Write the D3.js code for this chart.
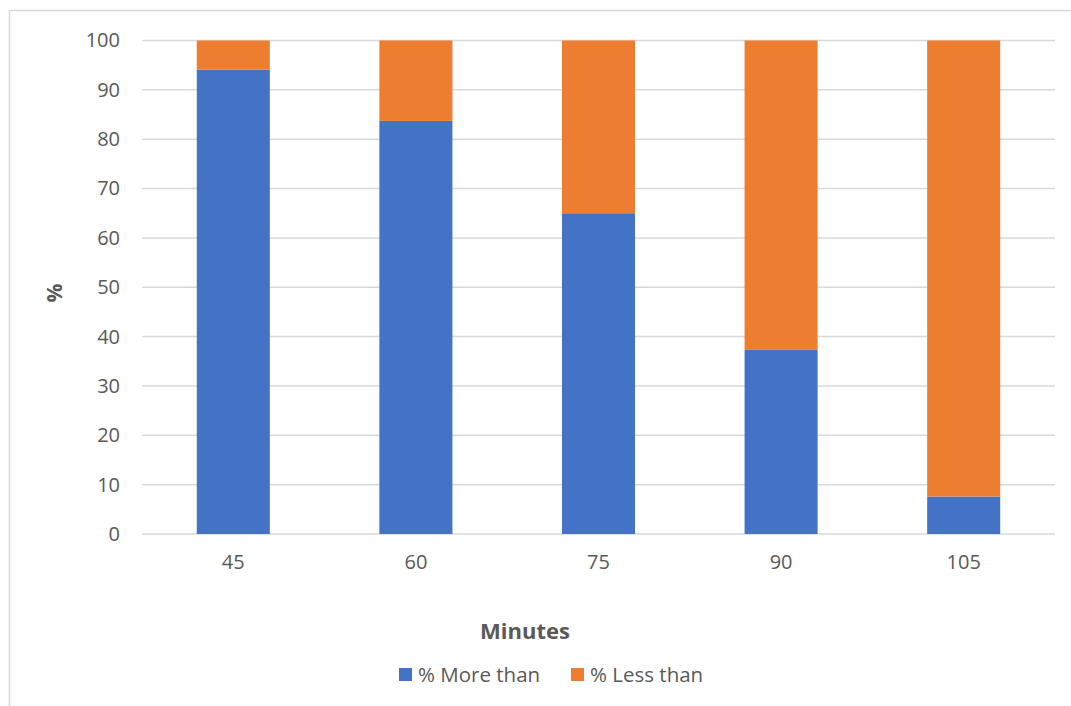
<!DOCTYPE html>
<html><head><meta charset="utf-8">
<script src="https://cdn.jsdelivr.net/npm/d3@7"></script>
<style>body{margin:0;background:#fff}svg{display:block}</style>
</head><body>
<script>
const categories = ["45", "60", "75", "90", "105"];
const moreThan = [94.1, 83.7, 65.0, 37.3, 7.6];
const lessThan = [5.9, 16.3, 35.0, 62.7, 92.4];
const seriesNames = ["% More than", "% Less than"];
const seriesColors = ["#4472C4", "#ED7D31"];
const yTicks = [0,10,20,30,40,50,60,70,80,90,100];

(function(){
const W = 1071, H = 706;
const svg = d3.select("body").append("svg").attr("width", W).attr("height", H);
const font = "'Open Sans', 'Liberation Sans', sans-serif";

// chart frame
svg.append("rect").attr("x", 9.5).attr("y", 10.5).attr("width", 1100).attr("height", 800)
  .attr("fill", "none").attr("stroke", "#d9d9d9").attr("stroke-width", 1.5);

const pL = 142, pR = 1055, pT = 40.5, pB = 534;
const x = d3.scaleBand().domain(categories).range([pL, pR]).paddingInner(0.6).paddingOuter(0.3);
const y = d3.scaleLinear().domain([0, 100]).range([pB, pT]);

// gridlines
svg.append("g").selectAll("line").data(yTicks).join("line")
  .attr("x1", pL).attr("x2", pR)
  .attr("y1", d => y(d)).attr("y2", d => y(d))
  .attr("stroke", "#d9d9d9").attr("stroke-width", 1.5);

// y axis labels
const yAxis = d3.axisLeft(y).tickValues(yTicks).tickSize(0).tickPadding(22);
const yg = svg.append("g").attr("transform", `translate(${pL},0)`).call(yAxis);
yg.select(".domain").remove();
yg.selectAll("text").attr("font-family", font).attr("font-size", 20).attr("fill", "#595959");

// stacked data
const rows = categories.map((c, i) => ({cat: c, more: moreThan[i], less: lessThan[i]}));
const stack = d3.stack().keys(["more", "less"])(rows);
svg.append("g").selectAll("g").data(stack).join("g")
  .attr("fill", (d, i) => seriesColors[i])
  .selectAll("rect").data(d => d).join("rect")
  .attr("x", d => x(d.data.cat))
  .attr("width", x.bandwidth())
  .attr("y", d => y(d[1]))
  .attr("height", d => y(d[0]) - y(d[1]));

// x axis labels
const xAxis = d3.axisBottom(x).tickSize(0).tickPadding(21);
const xg = svg.append("g").attr("transform", `translate(0,${pB})`).call(xAxis);
xg.select(".domain").remove();
xg.selectAll("text").attr("font-family", font).attr("font-size", 20).attr("fill", "#595959");

// axis titles
svg.append("text").attr("x", 525).attr("y", 639).attr("text-anchor", "middle")
  .attr("font-family", font).attr("font-size", 22).attr("font-weight", "bold").attr("fill", "#595959")
  .text("Minutes");
svg.append("text").attr("transform", "translate(62,293) rotate(-90)").attr("text-anchor", "middle")
  .attr("font-family", font).attr("font-size", 21).attr("font-weight", "bold").attr("fill", "#595959")
  .text("%");

// legend
const legendX = [399, 571];
const lg = svg.append("g").selectAll("g").data(seriesNames).join("g")
  .attr("transform", (d, i) => `translate(${legendX[i]},668)`);
lg.append("rect").attr("width", 13).attr("height", 13).attr("fill", (d, i) => seriesColors[i]);
lg.append("text").attr("x", 19).attr("y", 14).attr("font-family", font).attr("font-size", 20.5)
  .attr("fill", "#595959").text(d => d);
})();
</script>
</body></html>
